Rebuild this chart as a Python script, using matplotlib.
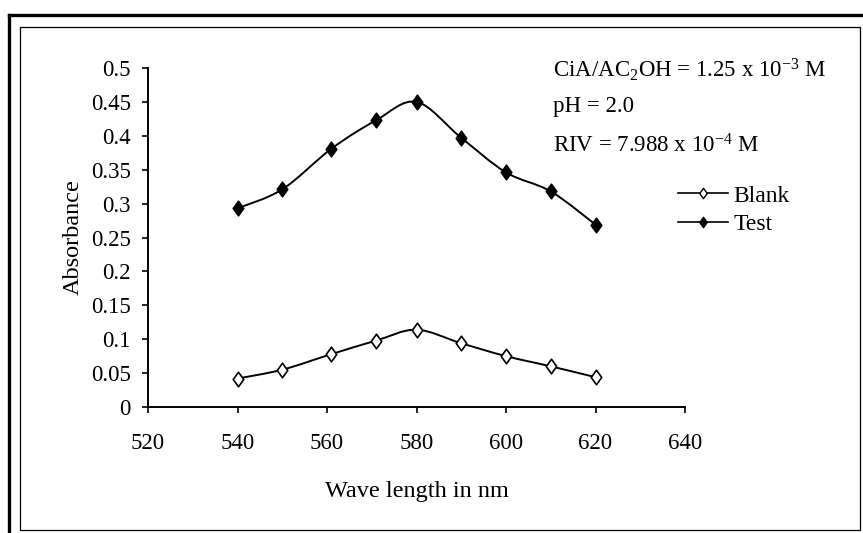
import numpy as np
import matplotlib
matplotlib.use('Agg')
import matplotlib.pyplot as plt
from matplotlib.path import Path
from matplotlib.patches import PathPatch, Rectangle
from matplotlib.lines import Line2D

# Wavelengths (nm) and absorbance readings
wavelength = [540, 550, 561, 571, 580, 590, 600, 610, 620]
blank = [0.042, 0.055, 0.078, 0.098, 0.114, 0.094, 0.075, 0.060, 0.044]
test = [0.293, 0.321, 0.381, 0.423, 0.450, 0.397, 0.346, 0.318, 0.269]

x_ticks = [520, 540, 560, 580, 600, 620, 640]
y_ticks = [0, 0.05, 0.1, 0.15, 0.2, 0.25, 0.3, 0.35, 0.4, 0.45, 0.5]

notes = [
    r'CiA/AC$\mathregular{_2}$OH = 1.25 x 10$^{\mathregular{-3}}$ M',
    'pH = 2.0',
    r'RIV = 7.988 x 10$^{\mathregular{-4}}$ M',
]

plt.rcParams['font.family'] = ['Liberation Serif', 'DejaVu Serif']
plt.rcParams['mathtext.fontset'] = 'custom'
plt.rcParams['mathtext.rm'] = 'Liberation Serif'
plt.rcParams['mathtext.it'] = 'Liberation Serif:italic'
plt.rcParams['mathtext.bf'] = 'Liberation Serif:bold'

W, H = 863, 533


def smooth_path(xs, ys):
    # Catmull-Rom style bezier through the points (like a spreadsheet "smoothed line")
    pts = np.column_stack([xs, ys]).astype(float)
    p = np.vstack([pts[0], pts, pts[-1]])
    verts = [pts[0]]
    codes = [Path.MOVETO]
    for i in range(1, len(p) - 2):
        c1 = p[i] + (p[i + 1] - p[i - 1]) / 6
        c2 = p[i + 1] - (p[i + 2] - p[i]) / 6
        verts += [c1, c2, p[i + 1]]
        codes += [Path.CURVE4] * 3
    return Path(verts, codes)


# tall diamond marker
diamond = Path([(0, 1), (0.72, 0), (0, -1), (-0.72, 0), (0, 1)],
               [Path.MOVETO, Path.LINETO, Path.LINETO, Path.LINETO, Path.CLOSEPOLY])

fig = plt.figure(figsize=(W / 100, H / 100), dpi=100)
ax = fig.add_axes([148 / W, 1 - 407 / H, (685 - 148) / W, (407 - 68) / H])

for ys, face in [(blank, 'white'), (test, 'black')]:
    ax.add_patch(PathPatch(smooth_path(wavelength, ys), fill=False, lw=1.4, color='black', zorder=2))
    ax.plot(wavelength, ys, linestyle='none', marker=diamond, markersize=10.5,
            markerfacecolor=face, markeredgecolor='black', markeredgewidth=1.2, zorder=3)

ax.set_xlim(520, 640)
ax.set_ylim(0, 0.5)
ax.set_xticks(x_ticks)
ax.set_yticks(y_ticks)
ax.set_yticklabels(['%g' % v for v in y_ticks])
for side in ['top', 'right']:
    ax.spines[side].set_visible(False)
for side in ['left', 'bottom']:
    ax.spines[side].set_linewidth(1.4)
ax.tick_params(axis='both', direction='out', length=4.5, width=1.2, labelsize=16.5)
ax.tick_params(axis='x', pad=14.5)
ax.tick_params(axis='y', pad=8)

ax.set_xlabel('Wave length in nm', fontsize=17.5, labelpad=19)
ax.set_ylabel('Absorbance', fontsize=17.5, labelpad=5)

# legend
handles = [
    Line2D([], [], color='black', lw=1.2, marker=diamond, markersize=7.5,
           markerfacecolor='white', markeredgecolor='black'),
    Line2D([], [], color='black', lw=1.2, marker=diamond, markersize=7.5,
           markerfacecolor='black', markeredgecolor='black'),
]
fig.legend(handles, ['Blank', 'Test'], loc='upper left',
           bbox_to_anchor=(678 / W, 1 - 185 / H), frameon=False, fontsize=17,
           handlelength=2.1, handletextpad=0.25, labelspacing=0.3,
           borderpad=0, borderaxespad=0)

# condition notes
for text, yp in zip(notes, [70, 106, 146]):
    fig.text(553 / W, 1 - yp / H, text, fontsize=16.5, va='center', ha='left')

# chart area frame and page border
fig.add_artist(Rectangle((20 / W, 1 - 530 / H), (860 - 20) / W, (530 - 27) / H,
                         fill=False, lw=0.9, edgecolor='black', transform=fig.transFigure))
fig.add_artist(Line2D([9 / W, 1], [1 - 15 / H] * 2, lw=2.4, color='black',
                      transform=fig.transFigure))
fig.add_artist(Line2D([9 / W] * 2, [1 - 15 / H, 0], lw=2.4, color='black',
                      transform=fig.transFigure))

fig.savefig('out.png', dpi=100)
